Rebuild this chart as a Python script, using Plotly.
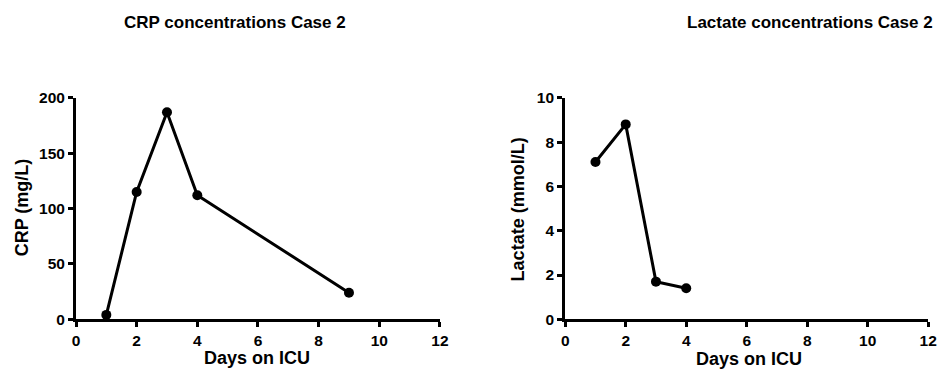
import plotly.graph_objects as go

days_crp = [1, 2, 3, 4, 9]
crp_values = [4, 115, 187, 112, 24]
days_lac = [1, 2, 3, 4]
lactate_values = [7.1, 8.8, 1.7, 1.4]
x_ticks = [0, 2, 4, 6, 8, 10, 12]
crp_ticks = [0, 50, 100, 150, 200]
lac_ticks = [0, 2, 4, 6, 8, 10]

W, H = 951, 376
FONT = "Liberation Sans, Arial, sans-serif"

def px_x(p):
    return p / W

def px_y(p):
    return 1 - p / H

fig = go.Figure()
fig.add_trace(go.Scatter(x=days_crp, y=crp_values, mode="lines+markers",
                         line=dict(color="black", width=3),
                         marker=dict(color="black", size=10),
                         cliponaxis=False, xaxis="x", yaxis="y"))
fig.add_trace(go.Scatter(x=days_lac, y=lactate_values, mode="lines+markers",
                         line=dict(color="black", width=3),
                         marker=dict(color="black", size=10),
                         cliponaxis=False, xaxis="x2", yaxis="y2"))

axis_common = dict(showgrid=False, zeroline=False, showline=True, linecolor="black",
                   linewidth=3, ticks="outside", ticklen=5, tickwidth=3, tickcolor="black",
                   tickfont=dict(family=FONT, size=15.5, color="black", weight="bold"))

y0, y1 = px_y(325), px_y(93)
fig.update_layout(
    width=W, height=H, margin=dict(l=0, r=0, t=0, b=0),
    paper_bgcolor="white", plot_bgcolor="white", showlegend=False,
    xaxis=dict(domain=[px_x(73), px_x(442)], range=[0, 12], tickvals=x_ticks,
               anchor="y", **axis_common),
    yaxis=dict(domain=[y0, y1], range=[0, 200], tickvals=crp_ticks,
               anchor="x", **axis_common),
    xaxis2=dict(domain=[px_x(569), px_x(937)], range=[0, 12], tickvals=x_ticks,
                anchor="y2", **axis_common),
    yaxis2=dict(domain=[y0, y1], range=[0, 10], tickvals=lac_ticks,
                anchor="x2", **axis_common),
)

def ann(text, x, y, size, angle=0):
    fig.add_annotation(text=text, x=px_x(x), y=px_y(y), xref="paper", yref="paper",
                       showarrow=False, textangle=angle, xanchor="center", yanchor="middle",
                       font=dict(family=FONT, size=size, color="black", weight="bold"))

ann("CRP concentrations Case 2", 234, 14, 17)
ann("Lactate concentrations Case 2", 817, 14, 17)
ann("Days on ICU", 257, 366, 18)
ann("Days on ICU", 755, 367, 18)
ann("CRP (mg/L)", 18, 208, 18, -90)
ann("Lactate (mmol/L)", 521, 210, 18, -90)

fig.write_html("out.html")
